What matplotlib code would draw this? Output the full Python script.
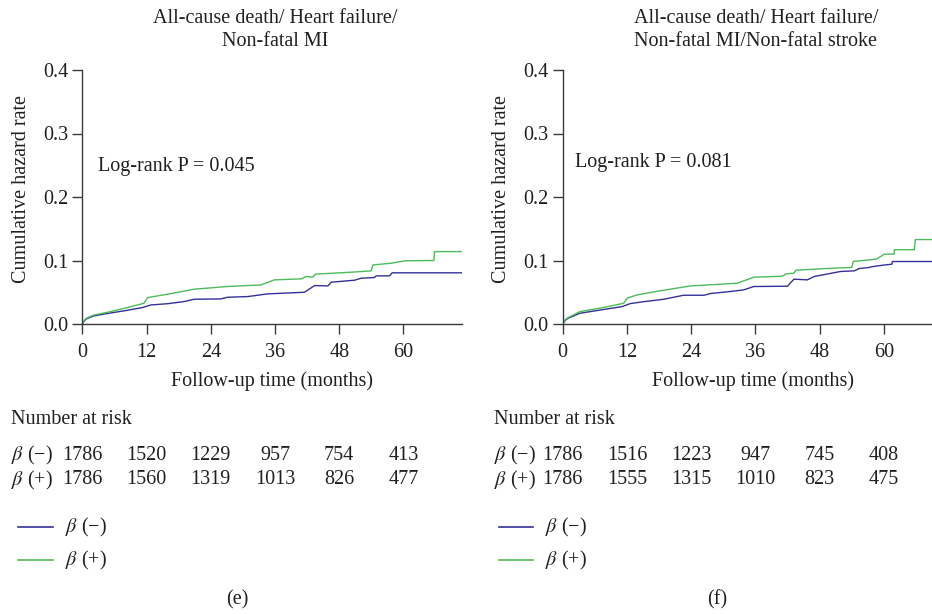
import matplotlib
matplotlib.use("Agg")
import matplotlib.pyplot as plt
from matplotlib.lines import Line2D
import matplotlib.transforms as mtransforms

plt.rcParams['font.family'] = ['Liberation Serif', 'DejaVu Serif']
plt.rcParams['mathtext.fontset'] = 'stix'

# ---------------- data ----------------
titles = ["All-cause death/ Heart failure/\nNon-fatal MI",
          "All-cause death/ Heart failure/\nNon-fatal MI/Non-fatal stroke"]
pvalues = ["Log-rank P = 0.045", "Log-rank P = 0.081"]
panel_tags = ["(e)", "(f)"]
group_labels = [r"$\beta$ (−)", r"$\beta$ (+)"]
risk_times = [0, 12, 24, 36, 48, 60]

# panel (e)
e_neg_t = [0, 0.5, 1.0, 2.1, 5, 8, 11.2, 12.8, 16, 19.0, 20.9, 25.9, 27.1, 30.9, 34.6, 41.5,
           43.4, 45.9, 46.5, 50.9, 52.1, 54.6, 54.9, 57.4, 57.9, 71]
e_neg_v = [0, 0.006, 0.009, 0.0126, 0.017, 0.021, 0.0258, 0.030, 0.032, 0.0353, 0.039, 0.0395,
           0.0421, 0.0432, 0.0474, 0.050, 0.0605, 0.060, 0.0658, 0.069, 0.0721, 0.0732, 0.0758,
           0.0758, 0.0806, 0.0806]
e_pos_t = [0, 0.5, 1.0, 2.1, 5, 8, 11.5, 12.2, 16, 20.9, 27, 33.4, 35.9, 40.9, 41.8, 43.1, 43.5,
           50.3, 54.0, 54.3, 57.8, 60.3, 65.7, 65.8, 71]
e_pos_v = [0, 0.007, 0.010, 0.014, 0.019, 0.025, 0.0326, 0.0416, 0.047, 0.0548, 0.059, 0.0616,
           0.0695, 0.0711, 0.0748, 0.0737, 0.0785, 0.0816, 0.0837, 0.093, 0.0958, 0.0995, 0.100,
           0.114, 0.114]

# panel (f)
f_neg_t = [0, 0.5, 1.0, 3.2, 7, 11.1, 12.6, 15, 18.9, 22.6, 26.4, 27.6, 30.7, 33.8, 35.7, 42.0,
           43.2, 45.7, 47.0, 51.9, 54.5, 55.4, 57.3, 57.6, 59.8, 61.5, 61.6, 71]
f_neg_v = [0, 0.006, 0.009, 0.0169, 0.022, 0.0274, 0.0321, 0.035, 0.039, 0.0453, 0.0453, 0.048,
           0.0506, 0.0537, 0.059, 0.0595, 0.0706, 0.0695, 0.0748, 0.0827, 0.0837, 0.0874, 0.089,
           0.090, 0.0926, 0.0942, 0.0984, 0.0984]
f_pos_t = [0, 0.5, 1.0, 3.2, 7, 11.4, 12.0, 13.9, 18, 23.9, 32.6, 35.7, 41.1, 41.7, 43.2, 43.6,
           50.7, 54.0, 54.3, 58.6, 60.1, 61.9, 62.0, 65.7, 65.9, 71]
f_pos_v = [0, 0.007, 0.010, 0.0195, 0.025, 0.0326, 0.0406, 0.0458, 0.052, 0.060, 0.0642, 0.0737,
           0.0753, 0.079, 0.080, 0.0848, 0.088, 0.089, 0.0985, 0.1021, 0.110, 0.110, 0.117,
           0.117, 0.133, 0.133]

e_risk_neg = [1786, 1520, 1229, 957, 754, 413]
e_risk_pos = [1786, 1560, 1319, 1013, 826, 477]
f_risk_neg = [1786, 1516, 1223, 947, 745, 408]
f_risk_pos = [1786, 1555, 1315, 1010, 823, 475]

panels = [
    dict(neg=(e_neg_t, e_neg_v), pos=(e_pos_t, e_pos_v), risk=(e_risk_neg, e_risk_pos)),
    dict(neg=(f_neg_t, f_neg_v), pos=(f_pos_t, f_pos_v), risk=(f_risk_neg, f_risk_pos)),
]

# ---------------- style ----------------
W, H = 932, 614
col_neg = "#34309a"
col_pos = "#4dbb5b"
txt = "#231f20"
axc = "#3a3a3a"
fs = 14.5

fig = plt.figure(figsize=(W / 100, H / 100), dpi=100)

ax_left_px = [82.3, 562.7]
ax_w_px = 380
ax_bottom_px = 324
ax_top_px = 70
title_cx = [275, 756]
p_x = [98, 575]
p_y = [167, 162]
nar_x = [11, 494]
leg_line_x = [(18, 53), (499, 533)]
leg_text_x = [65, 545]
tag_x = [237, 717]


def fx(px):
    return px / W


def fy(py):
    return 1 - py / H


for i, pnl in enumerate(panels):
    ax = fig.add_axes([fx(ax_left_px[i]), fy(ax_bottom_px), ax_w_px / W,
                       (ax_bottom_px - ax_top_px) / H])
    ax.plot(*pnl['neg'], color=col_neg, lw=1.0)
    ax.plot(*pnl['pos'], color=col_pos, lw=1.0)
    ax.set_xlim(0, 71)
    ax.set_ylim(0, 0.4)
    ax.set_xticks([0, 12, 24, 36, 48, 60])
    ax.set_yticks([0.0, 0.1, 0.2, 0.3, 0.4])
    ax.set_yticklabels(["0.0", "0.1", "0.2", "0.3", "0.4"])
    for s in ['top', 'right']:
        ax.spines[s].set_visible(False)
    for s in ['left', 'bottom']:
        ax.spines[s].set_color(axc)
        ax.spines[s].set_linewidth(1.0)
    ax.tick_params(direction='out', length=7, width=1.0, color=axc,
                   labelsize=fs, labelcolor=txt, pad=3)
    ax.tick_params(axis='x', pad=7)
    ax.set_xlabel("Follow-up time (months)", fontsize=fs, color=txt, labelpad=6)
    ax.set_ylabel("Cumulative hazard rate", fontsize=fs, color=txt)
    ax.yaxis.set_label_coords(-0.135, 0.53)
    ax.margins(0)

    fig.text(fx(title_cx[i]), fy(30), titles[i], ha='center', va='center',
             fontsize=fs, color=txt, linespacing=1.35)
    fig.text(fx(p_x[i]), fy(p_y[i]), pvalues[i], ha='left', va='center',
             fontsize=fs, color=txt)

    # number at risk
    fig.text(fx(nar_x[i]), fy(420), "Number at risk", ha='left', va='center',
             fontsize=fs, color=txt)
    trans = mtransforms.blended_transform_factory(ax.transData, fig.transFigure)
    for r, (lab, vals, yy) in enumerate(zip(group_labels, pnl['risk'], [455, 480])):
        fig.text(fx(nar_x[i]), fy(yy), lab, ha='left', va='center', fontsize=fs, color=txt)
        for t, v in zip(risk_times, vals):
            ax.text(t, fy(yy), str(v), transform=trans, ha='center', va='center',
                    fontsize=fs, color=txt, clip_on=False)

    # legend
    for lab, col, yy in zip(group_labels, [col_neg, col_pos], [527, 560]):
        fig.add_artist(Line2D([fx(leg_line_x[i][0]), fx(leg_line_x[i][1])], [fy(yy), fy(yy)],
                              transform=fig.transFigure, color=col, lw=1.2))
        fig.text(fx(leg_text_x[i]), fy(yy), lab, ha='left', va='center', fontsize=fs, color=txt)

    fig.text(fx(tag_x[i]), fy(600), panel_tags[i], ha='center', va='center',
             fontsize=fs, color=txt)

fig.savefig("out.png", dpi=100)
